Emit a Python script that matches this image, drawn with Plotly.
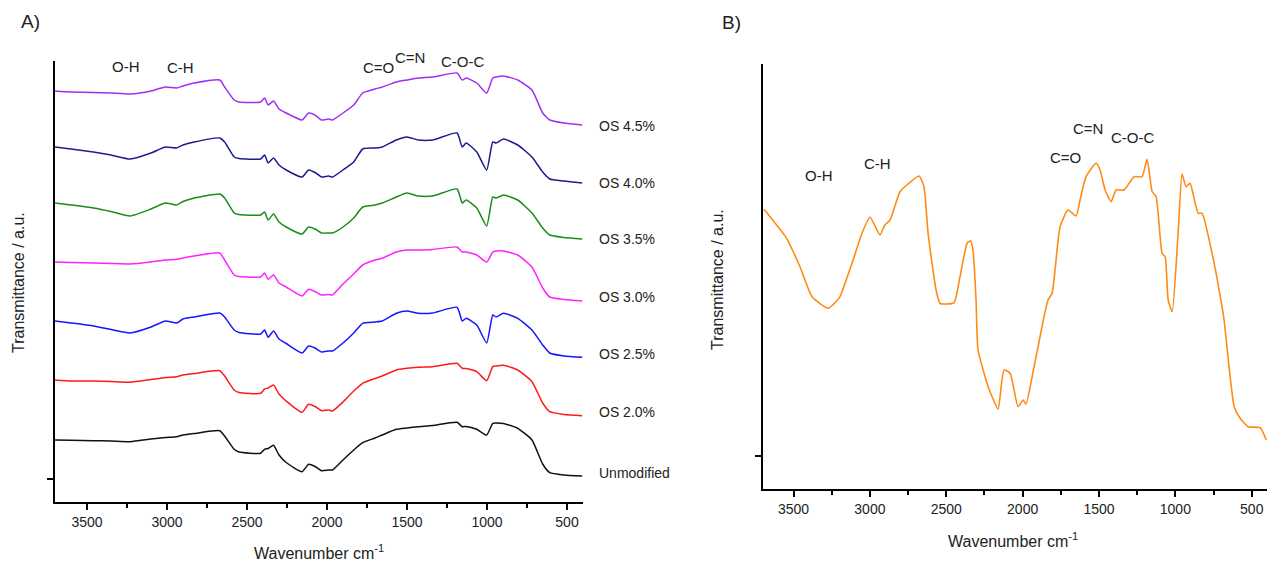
import plotly.graph_objects as go

# ---------------- data ----------------
# Panel A: wavenumber grid shared by all spectra (cm-1)
wn_a = [3700, 3600, 3460, 3350, 3230, 3100, 3010, 2940, 2900, 2830, 2670, 2640,
        2580, 2550, 2415, 2390, 2368, 2334, 2300, 2255, 2156, 2115, 2075, 2034,
        1990, 1966, 1900, 1833, 1777, 1700, 1655, 1567, 1500, 1430, 1340, 1187,
        1155, 1130, 1064, 1002, 964, 943, 897, 808, 719, 652, 608, 519, 405]

# transmittance (a.u., stacked)
os_45 = [411, 410, 409.5, 409, 408, 411, 415, 414, 416, 419, 422, 415,
         402, 400, 400, 404, 397, 401, 393, 389, 382, 389, 387, 382,
         383, 382, 389, 397, 409, 413, 415, 420, 422, 424, 425, 429,
         422, 424, 419, 409, 424, 425, 426, 422, 412, 389, 382, 379, 377]
os_40 = [355, 353, 350, 347, 343, 349, 355, 354, 357, 360, 364, 360,
         345, 343.5, 343, 347, 339, 344, 337, 332, 325, 332, 329.5, 325,
         326, 325, 332, 340, 353, 354, 355, 362, 365, 362, 362, 369,
         355, 359, 350, 332, 360, 359, 363, 357, 345, 330, 323, 321, 319]
os_35 = [299, 297, 294, 290.5, 286, 293, 299, 297, 300.5, 304, 308, 304,
         289, 287.5, 287, 290, 282, 288, 280, 275, 268, 275, 273, 269,
         269, 269, 275, 284, 295, 297, 299, 305, 309, 306, 306, 313,
         299, 302, 294, 276, 305, 304, 307, 302, 289, 274, 267, 264.5, 263]
os_30 = [240, 239.5, 239, 238.5, 238, 240, 242, 242.7, 244, 246, 249, 242,
         227, 225.5, 225, 229, 222.7, 227, 219, 215, 206, 212.7, 210.5, 207,
         207.5, 207, 218, 228, 237, 242, 243.7, 250, 252, 252, 252.5, 255,
         250, 250, 247, 240, 250, 251, 251, 247, 235, 214, 205, 202.5, 201]
os_25 = [181, 179, 176, 172.5, 169, 175, 181, 179, 183, 185, 189, 185,
         172, 169.5, 168, 172, 164.7, 171, 163, 158.5, 149, 156, 154, 150,
         151, 151, 159, 169, 178.7, 180, 181, 188.7, 191, 188.7, 189, 194.7,
         181, 183.7, 177, 159, 187, 185, 188.7, 183.7, 172, 157, 149, 146, 144.7]
os_20 = [122, 121, 121, 120.5, 119.7, 122.5, 124.5, 125.3, 127, 128.5, 131.3, 126,
         112, 109.5, 108.7, 113, 114, 117, 108, 101, 89.7, 97.7, 95.5, 91.3,
         92, 91, 100, 111, 118.7, 123.5, 126, 132, 133.7, 134.7, 135.3, 138.7,
         133.7, 133.5, 130.3, 121.3, 135.3, 136, 136.7, 132, 120.3, 99, 90.3, 87.5, 86.3]
unmod = [62, 61.7, 61.3, 61, 60.3, 63, 64.5, 65.3, 67, 68.5, 71.3, 66,
         52.7, 50, 48.7, 52.7, 53.5, 56.7, 47, 39.5, 30.3, 37.7, 35.5, 31.3,
         32, 32, 42, 52, 59.3, 64, 67, 72.7, 74, 75.3, 76.5, 79.7,
         75.3, 75.5, 72.7, 67, 78.7, 79, 78.5, 73.7, 62, 38, 29.3, 27, 26]

series_names = ["OS 4.5%", "OS 4.0%", "OS 3.5%", "OS 3.0%", "OS 2.5%", "OS 2.0%", "Unmodified"]
series_vals = [os_45, os_40, os_35, os_30, os_25, os_20, unmod]
series_colors = ["#A030F0", "#1C1C8E", "#1A8C1A", "#FF22FF", "#1515FF", "#FF1A1A", "#111111"]

# Panel B: orange spectrum
wn_b = [3693, 3602, 3549, 3458, 3379, 3274, 3222, 3196, 3117, 3052, 2999, 2934,
        2902, 2868, 2803, 2750, 2678, 2646, 2619, 2567, 2541, 2515, 2449, 2410,
        2364, 2342, 2325, 2305, 2292, 2226, 2200, 2161, 2122, 2082, 2030, 1997,
        1978, 1925, 1860, 1834, 1807, 1755, 1703, 1650, 1624, 1585, 1519, 1493,
        1460, 1421, 1388, 1336, 1270, 1218, 1185, 1152, 1126, 1087, 1067, 1047,
        1021, 982, 956, 930, 904, 851, 825, 746, 702, 681, 615, 576, 524, 445, 405]
trans_b = [279.7, 262.3, 251.7, 222.3, 192.3, 180.7, 187.3, 192.3, 225.7, 255.7, 271.7, 254,
           264, 269, 297.3, 305, 313, 302.3, 255.7, 199, 185.7, 185, 186.3, 212.3,
           245.7, 248.3, 239, 189, 139, 102.3, 92.3, 79.7, 119, 115.7, 82.3, 89,
           85, 122.3, 172.3, 189, 195.7, 262.3, 279, 273, 289, 312.3, 325.7, 319,
           299, 287.3, 299, 299, 312.3, 312.3, 329.7, 297.3, 292.3, 235.7, 232.3, 189,
           177.3, 255.7, 315, 302.3, 305.7, 275.7, 275.7, 225.7, 189, 169, 82.3, 70.7, 62.3, 61.3, 49]

bands = ["O-H", "C-H", "C=O", "C=N", "C-O-C"]
x_ticks = [3500, 3000, 2500, 2000, 1500, 1000, 500]

# ---------------- figure ----------------
W, H = 1268, 564
FONT = "Liberation Sans, Arial, sans-serif"


def px(x):
    return x / W


def py(y):
    return 1 - y / H


fig = go.Figure()

for name, vals, col in zip(series_names, series_vals, series_colors):
    fig.add_trace(go.Scatter(x=wn_a, y=vals, mode="lines", name=name,
                             line=dict(color=col, width=1.5, shape="spline", smoothing=0.5),
                             xaxis="x", yaxis="y", showlegend=False))

fig.add_trace(go.Scatter(x=wn_b, y=trans_b, mode="lines", name="OS",
                         line=dict(color="#FF8A14", width=1.6, shape="spline", smoothing=0.5),
                         xaxis="x2", yaxis="y2", showlegend=False))

axis_common = dict(showline=True, linecolor="black", linewidth=1.6, ticks="outside",
                   tickcolor="black", tickwidth=1.5, ticklen=6, showgrid=False,
                   zeroline=False, tickfont=dict(family=FONT, size=14, color="#222"))

minor = dict(ticks="outside", ticklen=4, tickwidth=1.5, tickcolor="black", dtick=250, tick0=0)

fig.update_layout(
    width=W, height=H, margin=dict(l=0, r=0, t=0, b=0),
    paper_bgcolor="white", plot_bgcolor="white",
    xaxis=dict(domain=[px(55), px(583)], range=[3700, 400], anchor="y",
               tickvals=x_ticks, minor=minor, **axis_common),
    yaxis=dict(domain=[py(502), py(61)], range=[0, 441], anchor="x",
               tickvals=[23], showticklabels=False, **axis_common),
    xaxis2=dict(domain=[px(763), px(1267)], range=[3700, 400], anchor="y2",
                tickvals=x_ticks, minor=minor, **axis_common),
    yaxis2=dict(domain=[py(489), py(64)], range=[0, 425], anchor="x2",
                tickvals=[33], showticklabels=False, **axis_common),
)

ann = []


def txt(x, y, s, size=15, xanchor="center", angle=0):
    ann.append(dict(x=px(x), y=py(y), xref="paper", yref="paper", text=s, showarrow=False,
                    xanchor=xanchor, yanchor="middle", textangle=angle,
                    font=dict(family=FONT, size=size, color="#222")))


# panel letters
txt(30, 21, "A)", size=19)
txt(731, 22, "B)", size=19)

# axis titles
txt(319, 552, "Wavenumber cm<sup>-1</sup>", size=16)
txt(1013, 540, "Wavenumber cm<sup>-1</sup>", size=16)
txt(18, 283, "Transmittance / a.u.", size=16, angle=-90)
txt(717, 280, "Transmittance / a.u.", size=16, angle=-90)

# band labels panel A
for s, (x, y) in zip(bands, [(126, 66), (180, 68), (378, 68), (410, 57), (462, 61)]):
    txt(x, y, s, size=15)
# band labels panel B
for s, (x, y) in zip(bands, [(819, 175), (877, 163), (1065, 157), (1088, 128), (1132, 137)]):
    txt(x, y, s, size=15)

# series labels at curve ends
label_y = [126, 183, 239, 297, 354, 412, 473]
for s, y in zip(series_names, label_y):
    txt(597, y, s, size=14, xanchor="left")

fig.update_layout(annotations=ann)
fig.write_html("out.html", config={"displayModeBar": False},
               post_script="document.body.style.margin='0';document.body.style.overflow='hidden';")
